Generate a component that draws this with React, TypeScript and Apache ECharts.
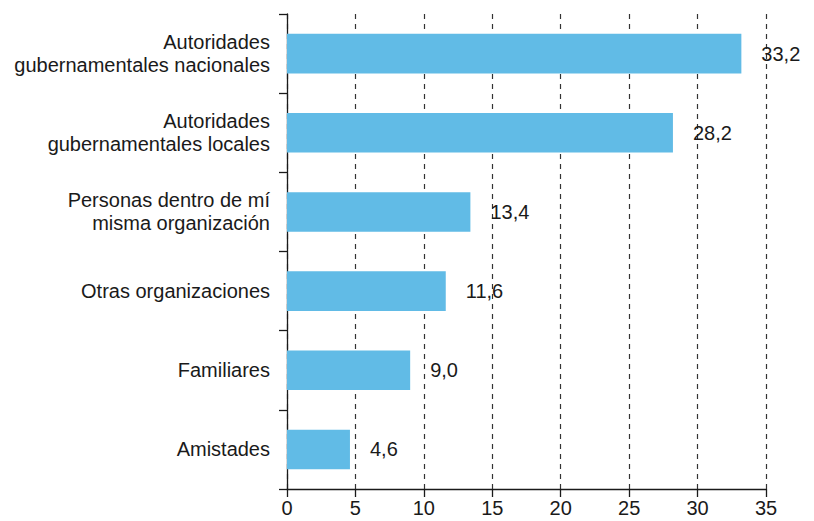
import React, { useEffect, useRef } from "react";
import * as echarts from "echarts";

const categories = [
  "Autoridades\ngubernamentales nacionales",
  "Autoridades\ngubernamentales locales",
  "Personas dentro de mí\nmisma organización",
  "Otras organizaciones",
  "Familiares",
  "Amistades",
];
const values = [33.2, 28.2, 13.4, 11.6, 9.0, 4.6];
const xTicks = [0, 5, 10, 15, 20, 25, 30, 35];

const FONT = "'Liberation Sans', Arial, sans-serif";
const TEXT = "#1a1a1a";

export default function App() {
  const ref = useRef<HTMLDivElement>(null);
  useEffect(() => {
    if (!ref.current) return;
    const chart = echarts.init(ref.current, undefined, { renderer: "svg" });
    chart.setOption({
      animation: false,
      grid: { left: 287, right: 48, top: 14, bottom: 32, containLabel: false },
      xAxis: {
        type: "value",
        min: xTicks[0],
        max: xTicks[xTicks.length - 1],
        interval: 5,
        axisLine: { show: true, lineStyle: { color: "#1a1a1a", width: 1.3 } },
        axisTick: { show: true, length: 8, lineStyle: { color: "#1a1a1a", width: 1.3 } },
        axisLabel: { color: TEXT, fontSize: 20, fontFamily: FONT, margin: 9 },
        splitLine: {
          show: true,
          lineStyle: { color: "#333", type: [5, 5], width: 1.2 },
        },
      },
      yAxis: {
        type: "category",
        data: categories,
        inverse: true,
        axisLine: { show: true, lineStyle: { color: "#1a1a1a", width: 1.3 } },
        axisTick: { show: true, length: 8, alignWithLabel: false, lineStyle: { color: "#1a1a1a", width: 1.3 } },
        axisLabel: {
          color: TEXT,
          fontSize: 20,
          fontFamily: FONT,
          margin: 17,
          lineHeight: 23,
          align: "right",
          padding: [0, 0, 4, 0],
        },
        splitLine: { show: false },
      },
      series: [
        {
          type: "bar",
          data: values,
          barWidth: "50%",
          itemStyle: { color: "#61BBE6" },
          label: {
            show: true,
            position: "right",
            distance: 20,
            color: TEXT,
            fontSize: 20,
            fontFamily: FONT,
            padding: [0, 0, 3, 0],
            formatter: (p: any) => p.value.toFixed(1).replace(".", ","),
          },
        },
      ],
    });
    return () => chart.dispose();
  }, []);
  return <div ref={ref} style={{ width: 814, height: 521, position: "absolute", left: 0, top: 0 }} />;
}
